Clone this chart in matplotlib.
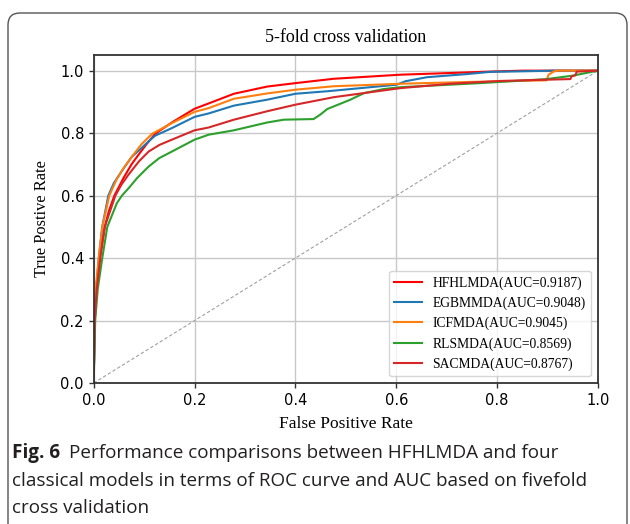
import matplotlib
matplotlib.use('Agg')
import matplotlib.pyplot as plt
from matplotlib.patches import FancyBboxPatch
from matplotlib.transforms import IdentityTransform

# ROC curves (fpr, tpr)
hfhl_fpr = [0, 0.002, 0.006, 0.012, 0.015, 0.022, 0.03, 0.041, 0.059, 0.075, 0.089, 0.105, 0.122,
            0.155, 0.2, 0.228, 0.278, 0.344, 0.4, 0.476, 0.608, 0.7, 0.786, 0.85, 1.0]
hfhl_tpr = [0, 0.2, 0.3, 0.4, 0.43, 0.5, 0.55, 0.6, 0.656, 0.7, 0.731, 0.765, 0.798,
            0.834, 0.878, 0.895, 0.926, 0.949, 0.96, 0.974, 0.987, 0.992, 0.997, 1.0, 1.0]

egbm_fpr = [0, 0.002, 0.005, 0.01, 0.017, 0.029, 0.04, 0.053, 0.065, 0.076, 0.09, 0.109, 0.122,
            0.155, 0.2, 0.228, 0.278, 0.344, 0.4, 0.463, 0.575, 0.601, 0.618, 0.661, 0.74,
            0.786, 0.918, 1.0]
egbm_tpr = [0, 0.2, 0.3, 0.4, 0.5, 0.6, 0.64, 0.672, 0.7, 0.725, 0.745, 0.774, 0.792,
            0.816, 0.852, 0.863, 0.888, 0.907, 0.926, 0.934, 0.951, 0.955, 0.966, 0.979, 0.989,
            0.996, 1.0, 1.0]

icf_fpr = [0, 0.002, 0.005, 0.01, 0.017, 0.031, 0.045, 0.06, 0.076, 0.095, 0.116, 0.155, 0.2,
           0.228, 0.278, 0.344, 0.4, 0.476, 0.608, 0.75, 0.898, 0.902, 0.912, 0.92, 1.0]
icf_tpr = [0, 0.22, 0.32, 0.4, 0.5, 0.6, 0.65, 0.69, 0.725, 0.765, 0.798, 0.832, 0.868,
           0.88, 0.91, 0.927, 0.939, 0.95, 0.958, 0.964, 0.969, 0.987, 0.997, 1.0, 1.0]

rls_fpr = [0, 0.003, 0.008, 0.017, 0.027, 0.046, 0.056, 0.07, 0.086, 0.109, 0.13, 0.155, 0.2,
           0.228, 0.278, 0.344, 0.377, 0.436, 0.45, 0.463, 0.509, 0.536, 0.575, 0.608, 0.766,
           0.898, 0.95, 1.0]
rls_tpr = [0, 0.2, 0.3, 0.4, 0.5, 0.576, 0.6, 0.625, 0.656, 0.693, 0.72, 0.741, 0.779,
           0.795, 0.809, 0.834, 0.843, 0.845, 0.86, 0.877, 0.907, 0.928, 0.941, 0.947, 0.96,
           0.973, 0.984, 1.0]

sac_fpr = [0, 0.002, 0.006, 0.013, 0.022, 0.043, 0.055, 0.069, 0.09, 0.109, 0.13, 0.155, 0.2,
           0.228, 0.278, 0.344, 0.4, 0.476, 0.608, 0.707, 0.806, 0.898, 0.945, 0.948, 0.955,
           0.958, 1.0]
sac_tpr = [0, 0.2, 0.3, 0.4, 0.5, 0.6, 0.635, 0.667, 0.71, 0.741, 0.762, 0.779, 0.809,
           0.818, 0.843, 0.87, 0.891, 0.915, 0.944, 0.958, 0.967, 0.971, 0.973, 0.982, 0.985,
           0.997, 1.0]

labels = ['HFHLMDA(AUC=0.9187)', 'EGBMMDA(AUC=0.9048)', 'ICFMDA(AUC=0.9045)',
          'RLSMDA(AUC=0.8569)', 'SACMDA(AUC=0.8767)']
colors = ['#ff0000', '#1f77b4', '#ff7f0e', '#2ca02c', '#d62728']
curves = [(hfhl_fpr, hfhl_tpr), (egbm_fpr, egbm_tpr), (icf_fpr, icf_tpr),
          (rls_fpr, rls_tpr), (sac_fpr, sac_tpr)]

serif = ['Liberation Serif', 'DejaVu Serif']

fig = plt.figure(figsize=(6.3, 5.24), dpi=100)
ax = fig.add_axes([0.1487, 0.269, 0.8005, 0.626])

ax.grid(True, color='#c8c8c8', linewidth=1.0)
ax.set_axisbelow(True)
ax.plot([0, 1], [0, 1], linestyle=(0, (3, 2)), color='#a0a0a0', linewidth=0.8)
for (f, t), c, lab in zip(curves, colors, labels):
    ax.plot(f, t, color=c, linewidth=1.5, label=lab)

ax.set_xlim(0, 1)
ax.set_ylim(0, 1.05)
ax.set_xticks([0, 0.2, 0.4, 0.6, 0.8, 1.0])
ax.set_yticks([0, 0.2, 0.4, 0.6, 0.8, 1.0])
ax.tick_params(labelsize=10.5, length=3.5, width=1, color='#333333')
for s in ax.spines.values():
    s.set_color('#333333')
    s.set_linewidth(1.3)

ax.set_xlabel('False Positive Rate', family=serif, fontsize=12.5)
ax.set_ylabel('True Postive Rate', family=serif, fontsize=11.8)
ax.xaxis.set_label_coords(0.5, -0.125)
ax.yaxis.set_label_coords(-0.1025, 0.5)
ax.xaxis.label.set_va('center')
ax.yaxis.label.set_va('center')

fig.text(0.549, 0.929, '5-fold cross validation', family=serif, fontsize=13,
         ha='center', va='center')

ax.legend(loc='lower right', prop={'family': serif, 'size': 9.8}, framealpha=0.8)

# caption below the chart
cap = '#231f20'
fsz = 13.6
bold = fig.text(12 / 630, 1 - 453 / 524, 'Fig. 6', family='Open Sans', weight='bold',
                fontsize=fsz, color=cap, va='center')
ax.annotate('Performance comparisons between HFHLMDA and four',
            xy=(1, 0.5), xycoords=bold, xytext=(9, 0), textcoords='offset pixels',
            family='Open Sans', fontsize=fsz, color=cap, va='center', ha='left',
            annotation_clip=False)
fig.text(12 / 630, 1 - 481 / 524,
         'classical models in terms of ROC curve and AUC based on fivefold',
         family='Open Sans', fontsize=fsz, color=cap, va='center')
fig.text(12 / 630, 1 - 508 / 524, 'cross validation',
         family='Open Sans', fontsize=fsz, color=cap, va='center')

# rounded frame around the figure, open at the bottom
frame = FancyBboxPatch((8, -30), 619, 524 - 13 + 30,
                       boxstyle='round,pad=0,rounding_size=12',
                       transform=IdentityTransform(), fill=False,
                       edgecolor='#555555', linewidth=1.0)
fig.add_artist(frame)

fig.savefig('out.png', dpi=100)
